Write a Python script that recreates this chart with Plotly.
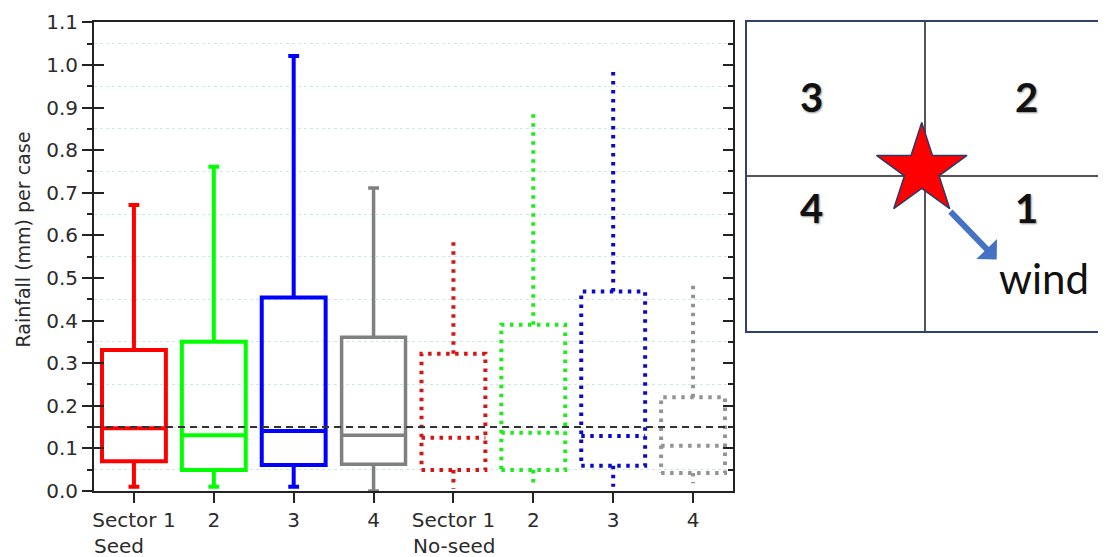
import plotly.graph_objects as go

# ---------------- data ----------------
categories = ["Sector 1", "2", "3", "4", "Sector 1", "2", "3", "4"]
group_labels = ["Seed", "No-seed"]
positions = [0, 1, 2, 3, 4, 5, 6, 7]

seed_lower = [0.010, 0.010, 0.010, 0.000]
seed_q1 = [0.070, 0.049, 0.061, 0.063]
seed_median = [0.147, 0.131, 0.141, 0.131]
seed_q3 = [0.331, 0.350, 0.454, 0.361]
seed_upper = [0.671, 0.761, 1.021, 0.711]

noseed_lower = [0.005, 0.010, 0.010, 0.018]
noseed_q1 = [0.049, 0.049, 0.059, 0.042]
noseed_median = [0.125, 0.137, 0.129, 0.106]
noseed_q3 = [0.322, 0.390, 0.468, 0.220]
noseed_upper = [0.591, 0.892, 0.991, 0.490]

seed_colors = ["#FF0000", "#00FF00", "#0000FF", "#808080"]
noseed_colors = ["#D41515", "#1EEB1E", "#0A0ACC", "#939393"]

reference_level = 0.15
y_ticks = [0.0, 0.1, 0.2, 0.3, 0.4, 0.5, 0.6, 0.7, 0.8, 0.9, 1.0, 1.1]
y_title = "Rainfall (mm) per case"

sector_names = ["3", "2", "4", "1"]
wind_label = "wind"

# ---------------- layout helpers ----------------
W, H = 1098, 549          # page is drawn with an 8px body margin
OFF = 8


def px_x(x):
    return (x - OFF) / W


def px_y(y):
    return (H - (y - OFF)) / H


FONT = "DejaVu Sans"
AX = "#222222"

fig = go.Figure()

# solid (seed) boxes
for i in range(4):
    fig.add_trace(go.Box(
        x=[positions[i]], q1=[seed_q1[i]], median=[seed_median[i]], q3=[seed_q3[i]],
        lowerfence=[seed_lower[i]], upperfence=[seed_upper[i]],
        width=0.8, whiskerwidth=0.17, boxpoints=False,
        line=dict(color=seed_colors[i], width=3.5 if i == 3 else 4),
        fillcolor="rgba(0,0,0,0)", showlegend=False, hoverinfo="skip",
        xaxis="x", yaxis="y"))

# dotted (no-seed) boxes
h = 0.4
for i in range(4):
    p = positions[4 + i]
    q1, med, q3 = noseed_q1[i], noseed_median[i], noseed_q3[i]
    lo, up = noseed_lower[i], noseed_upper[i]
    xs = [p - h, p + h, p + h, p - h, p - h, None, p - h, p + h, None, p, p, None, p, p]
    ys = [q1, q1, q3, q3, q1, None, med, med, None, q3, up, None, q1, lo]
    fig.add_trace(go.Scatter(
        x=xs, y=ys, mode="lines",
        line=dict(color=noseed_colors[i], width=4, dash="3.5px,5.5px"),
        showlegend=False, hoverinfo="skip", xaxis="x", yaxis="y"))

# dummy traces so overlay axes render
fig.add_trace(go.Scatter(x=[None], y=[None], xaxis="x", yaxis="y3", showlegend=False))
fig.add_trace(go.Scatter(x=[None], y=[None], xaxis="x", yaxis="y4", showlegend=False))

# inset: star
fig.add_trace(go.Scatter(
    x=[-0.02], y=[0.04], mode="markers",
    marker=dict(symbol="star", size=68, color="#FF0000", line=dict(color="#2B3A67", width=1.5)),
    xaxis="x2", yaxis="y2", showlegend=False, hoverinfo="skip", cliponaxis=False))

fig.add_hline(y=reference_level, line=dict(color="#333333", width=2, dash="7px,5px"), layer="above")

tick_font = dict(family=FONT, size=20, color="#2b2b2b")
ytick_text = [f"{v:.1f}" for v in y_ticks]

main_y_domain = [px_y(491), px_y(22.3)]

fig.update_layout(
    width=W, height=H, margin=dict(l=0, r=0, t=0, b=0, autoexpand=False),
    paper_bgcolor="white", plot_bgcolor="white", showlegend=False,
    xaxis=dict(domain=[px_x(94), px_x(733)], range=[-0.5, 7.5], anchor="y", automargin=False,
               tickmode="array", tickvals=positions, ticktext=categories,
               ticks="outside", ticklen=10, tickwidth=2, tickcolor=AX,
               showline=True, linecolor=AX, linewidth=2, mirror=True,
               showgrid=False, zeroline=False, tickfont=tick_font),
    yaxis=dict(domain=main_y_domain, range=[0, 1.1], anchor="x", automargin=False,
               tickmode="array", tickvals=y_ticks, ticktext=ytick_text,
               ticks="outside", ticklen=10, tickwidth=2, tickcolor=AX,
               showline=True, linecolor=AX, linewidth=2,
               showgrid=False, zeroline=False, tickfont=tick_font,
               minor=dict(tick0=0.05, dtick=0.1, ticks="outside", ticklen=5, tickwidth=1.5,
                          tickcolor=AX, showgrid=True, gridcolor="#cde8eb", griddash="dot",
                          gridwidth=1)),
    yaxis3=dict(overlaying="y", side="left", anchor="x", range=[0, 1.1], automargin=False,
                tickmode="array", tickvals=y_ticks, ticks="inside", ticklen=10, tickwidth=2,
                tickcolor=AX, showticklabels=False, showline=False, showgrid=False, zeroline=False),
    yaxis4=dict(overlaying="y", side="right", anchor="x", range=[0, 1.1], automargin=False,
                tickmode="array", tickvals=y_ticks, ticks="inside", ticklen=10, tickwidth=2,
                tickcolor=AX, showticklabels=False, showline=True, linecolor=AX, linewidth=2,
                showgrid=False, zeroline=False,
                minor=dict(tick0=0.05, dtick=0.1, ticks="inside", ticklen=5, tickwidth=1.5,
                           tickcolor=AX, showgrid=False)),
    xaxis2=dict(domain=[px_x(747.3), px_x(1103.3)], range=[-1, 1], anchor="y2", automargin=False,
                showline=True, mirror=True, linecolor="#2E4272", linewidth=2,
                zeroline=True, zerolinecolor="#555555", zerolinewidth=1.5,
                showgrid=False, showticklabels=False, ticks=""),
    yaxis2=dict(domain=[px_y(331), px_y(21.7)], range=[-1, 1], anchor="x2", automargin=False,
                showline=True, mirror=True, linecolor="#2E4272", linewidth=2,
                zeroline=True, zerolinecolor="#555555", zerolinewidth=1.5,
                showgrid=False, showticklabels=False, ticks=""),
)

annotations = []
# group labels under "Sector 1"
for gi, g in enumerate(group_labels):
    annotations.append(dict(x=positions[gi * 4], y=px_y(546), xref="x", yref="paper",
                            text=g, showarrow=False, xanchor="left", yanchor="middle",
                            xshift=-42, font=tick_font))
# y title
annotations.append(dict(x=px_x(22), y=px_y(239.5), xref="paper", yref="paper",
                        xanchor="center", yanchor="middle",
                        text=y_title, textangle=-90, showarrow=False,
                        font=dict(family=FONT, size=19, color="#2b2b2b")))
# inset sector numbers
sx = [-0.64, 0.57, -0.64, 0.57]
sy = [0.515, 0.515, -0.207, -0.207]
for t, x, y in zip(sector_names, sx, sy):
    annotations.append(dict(x=x, y=y, xref="x2", yref="y2", text=f"<b>{t}</b>", showarrow=False,
                            font=dict(family="Lato", size=40, color="#111111",
                                      shadow="1px 1px 2px rgba(0,0,0,0.45)")))
# wind arrow
annotations.append(dict(x=0.401, y=-0.537, ax=0.133, ay=-0.218, xref="x2", yref="y2",
                        axref="x2", ayref="y2", text="", showarrow=True, arrowhead=1,
                        arrowsize=0.8, arrowwidth=6, arrowcolor="#4472C4"))
annotations.append(dict(x=0.667, y=-0.657, xref="x2", yref="y2", text=wind_label,
                        showarrow=False, font=dict(family="Lato", size=42, color="#111111")))
fig.update_layout(annotations=annotations)

fig.write_html("out.html")
